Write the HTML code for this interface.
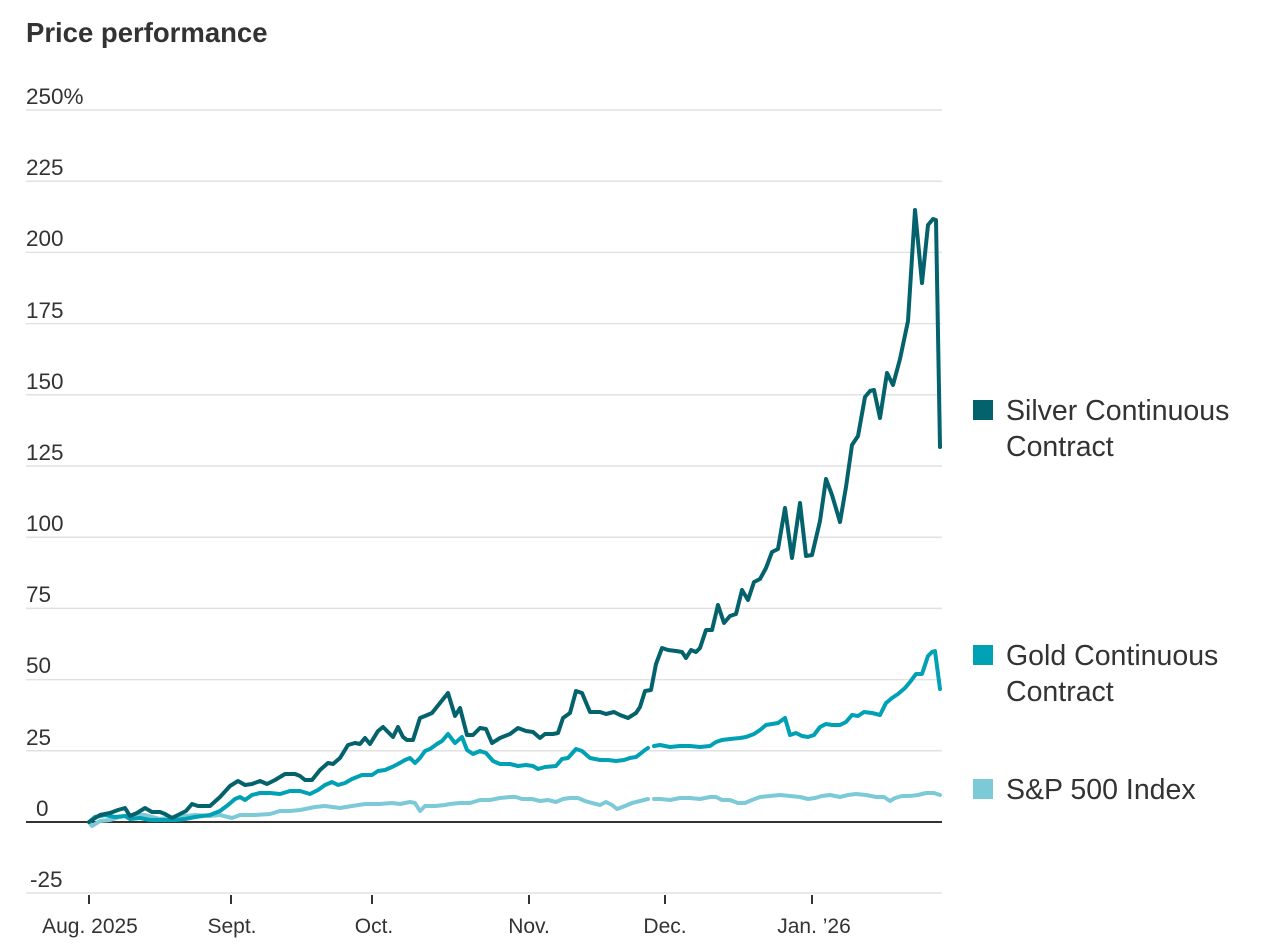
<!DOCTYPE html>
<html><head><meta charset="utf-8"><style>
body{margin:0;background:#fff;width:1270px;height:946px;overflow:hidden;font-family:"Liberation Sans",sans-serif;}
</style></head><body>
<svg width="1270" height="946" viewBox="0 0 1270 946" xmlns="http://www.w3.org/2000/svg" font-family="Liberation Sans, sans-serif">
<text x="26" y="42" font-size="27.5" font-weight="bold" fill="#333">Price performance</text>
<g stroke="#e2e2e2" stroke-width="1.5">
<line x1="26" x2="942" y1="110" y2="110"/><line x1="26" x2="942" y1="181.2" y2="181.2"/><line x1="26" x2="942" y1="252.4" y2="252.4"/><line x1="26" x2="942" y1="323.6" y2="323.6"/><line x1="26" x2="942" y1="394.8" y2="394.8"/><line x1="26" x2="942" y1="466" y2="466"/><line x1="26" x2="942" y1="537.2" y2="537.2"/><line x1="26" x2="942" y1="608.4" y2="608.4"/><line x1="26" x2="942" y1="679.6" y2="679.6"/><line x1="26" x2="942" y1="750.8" y2="750.8"/><line x1="26" x2="942" y1="893" y2="893"/>
</g>
<line x1="26" x2="942" y1="822" y2="822" stroke="#333" stroke-width="2"/>
<g font-size="22.5" fill="#333">
<text x="26" y="104">250%</text><text x="26" y="175">225</text><text x="26" y="246">200</text><text x="26" y="318">175</text><text x="26" y="389">150</text><text x="26" y="460">125</text><text x="26" y="531">100</text><text x="26" y="602">75</text><text x="26" y="673">50</text><text x="26" y="745">25</text><text x="36" y="816">0</text><text x="30" y="887">-25</text>
</g>
<g stroke="#333" stroke-width="2">
<line x1="89" x2="89" y1="895" y2="904"/><line x1="231" x2="231" y1="895" y2="904"/><line x1="372" x2="372" y1="895" y2="904"/><line x1="529" x2="529" y1="895" y2="904"/><line x1="665" x2="665" y1="895" y2="904"/><line x1="812" x2="812" y1="895" y2="904"/>
</g>
<g font-size="21" fill="#333" text-anchor="middle">
<text x="90" y="933">Aug. 2025</text><text x="232" y="933">Sept.</text><text x="374" y="933">Oct.</text><text x="529" y="933">Nov.</text><text x="665" y="933">Dec.</text><text x="814" y="933">Jan. ’26</text>
</g>
<g fill="none" stroke-width="4" stroke-linejoin="round" stroke-linecap="round">
<polyline stroke="#7ccad8" points="89,822 92,826 100,821 110,820 120,817 130,815 145,815 160,819 175,817 195,815 210,816 220,815 232,818 240,815 255,815 270,814 280,811 290,811 300,810 315,807 325,806 340,808 352,806 365,804 380,804 392,803 400,804 410,802 415,803 420,811 425,806 435,806 445,805 450,804 460,803 470,803 480,800 490,800 500,798 510,797 516,797 522,799 532,799 540,801 548,800 556,802 563,799 570,798 578,798 585,801 592,803 600,805 606,802 612,805 617,809 625,806 632,803 640,801 648,799"/>
<polyline stroke="#7ccad8" points="654,799 660,799 670,800 680,798 690,798 700,799 710,797 716,797 722,800 730,800 738,803 745,803 752,800 760,797 770,796 780,795 790,796 800,797 808,799 815,798 822,796 830,795 840,797 848,795 856,794 866,795 876,797 884,797 890,801 895,798 902,796 910,796 918,795 926,793 934,793 940,795"/>
<polyline stroke="#00a0b5" points="89,822 95,817 105,815 115,817 125,816 130,819 140,818 150,820 165,820 175,820 185,819 195,817 210,815 220,811 228,805 235,799 240,797 245,800 252,795 260,793 270,793 280,794 290,791 300,791 310,794 318,790 325,785 332,782 338,785 345,783 352,779 362,775 372,775 378,771 385,770 392,767 398,764 405,760 410,758 415,763 420,758 425,751 430,749 437,744 442,741 448,734 455,743 462,737 467,750 473,754 480,751 486,753 493,761 500,764 510,764 518,766 526,765 533,766 538,769 545,767 556,766 562,759 568,758 576,749 582,751 590,758 600,760 608,760 616,761 624,760 630,758 636,757 640,754 645,750 648,748"/>
<polyline stroke="#00a0b5" points="654,746 660,745 665,746 670,747 680,746 690,746 700,747 710,746 716,742 722,740 730,739 740,738 746,737 754,734 760,730 766,725 772,724 778,723 785,718 790,735 796,733 802,736 808,737 814,735 820,727 826,724 832,725 840,725 846,722 852,715 858,716 864,712 872,713 880,715 886,703 892,698 898,694 905,688 910,682 916,674 922,674 928,656 932,652 935,651 940,689"/>
<polyline stroke="#03626c" points="89,822 100,815 110,813 118,810 125,808 130,816 137,813 145,808 152,812 160,812 165,814 172,818 180,814 186,811 192,804 198,806 210,806 220,797 230,786 238,781 245,785 252,784 260,781 267,784 275,780 285,774 295,774 300,776 305,780 312,780 320,770 328,763 333,764 340,758 348,745 355,743 360,744 365,738 370,744 378,731 383,727 388,732 393,737 398,727 403,737 407,740 413,740 420,718 425,716 432,713 440,703 448,693 455,716 460,708 467,735 473,735 480,728 486,729 492,743 500,738 510,734 518,728 526,731 533,732 540,738 545,734 553,734 558,733 563,718 570,713 576,691 582,693 590,712 600,712 606,714 614,712 620,715 628,718 636,713 640,707 645,691 651,690 656,664 662,648 668,650 676,651 682,652 686,658 691,650 696,652 700,648 706,630 712,630 718,605 724,623 730,616 736,614 742,590 748,600 754,582 760,579 766,568 772,552 778,549 785,508 792,558 800,503 806,556 812,555 820,521 826,479 832,495 840,522 846,487 852,445 858,436 865,397 870,391 874,390 880,418 887,373 893,385 900,359 908,321 915,210 922,283 928,225 933,219 936,220 940,447"/>
</g>
<rect x="973" y="400" width="20" height="20" fill="#03626c"/>
<rect x="973" y="645" width="20" height="20" fill="#00a0b5"/>
<rect x="973" y="779" width="20" height="20" fill="#7ccad8"/>
<g font-size="28.5" fill="#333">
<text x="1006" y="420">Silver Continuous</text><text x="1006" y="456">Contract</text>
<text x="1006" y="665">Gold Continuous</text><text x="1006" y="701">Contract</text>
<text x="1006" y="799">S&amp;P 500 Index</text>
</g>
</svg>
</body></html>
